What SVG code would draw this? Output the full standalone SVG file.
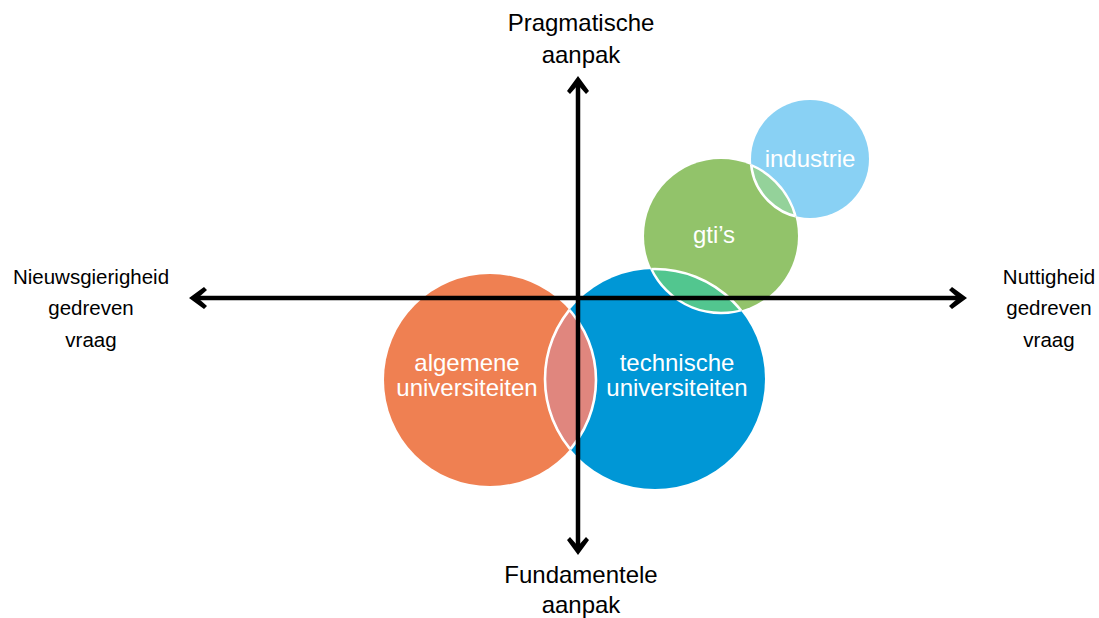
<svg xmlns="http://www.w3.org/2000/svg" width="1099" height="618" viewBox="0 0 1099 618">
  <style>
    .lbl { font-family: "Liberation Sans", Arial, sans-serif; fill: #000; text-anchor: middle; }
    .big { font-size: 24px; }
    .side { font-size: 20.5px; }
    .in { font-family: "Liberation Sans", Arial, sans-serif; font-size: 24px; fill: #fff; text-anchor: middle; }
    .lens { stroke: none; }
    .rim { fill: none; stroke: #fff; stroke-width: 2.6; }
    .axis { stroke: #000; stroke-width: 4.5; fill: none; }
  </style>
  <defs>
    <clipPath id="c-alg"><circle cx="490" cy="380" r="106"/></clipPath>
    <clipPath id="c-tech"><circle cx="655" cy="379" r="110"/></clipPath>
    <clipPath id="c-gti"><circle cx="721" cy="236" r="77"/></clipPath>
    <clipPath id="c-ind"><circle cx="810" cy="159" r="59"/></clipPath>
    <!-- notched chevron head, tip 8px beyond the line end -->
    <marker id="head" viewBox="-19 -12 20 24" refX="-8" refY="0" markerWidth="20" markerHeight="24" markerUnits="userSpaceOnUse" orient="auto-start-reverse">
      <path d="M0,0 L-15,-11 L-18,-8 L-9,0 L-18,8 L-15,11 Z" fill="#000"/>
    </marker>
  </defs>

  <rect width="1099" height="618" fill="#fff"/>

  <!-- circles -->
  <g id="node-algemene">
    <circle cx="490" cy="380" r="106" fill="#EF8052"/>
  </g>
  <g id="node-technische">
    <circle cx="655" cy="379" r="110" fill="#0097D6"/>
  </g>
  <g id="node-gti">
    <circle cx="721" cy="236" r="77" fill="#92C36A"/>
  </g>
  <g id="node-industrie">
    <circle cx="810" cy="159" r="59" fill="#89D1F4"/>
  </g>

  <!-- overlaps -->
  <g id="overlaps">
    <g clip-path="url(#c-alg)">
      <circle class="lens" cx="655" cy="379" r="110" fill="#E0867E"/>
      <circle class="rim" cx="655" cy="379" r="110"/>
    </g>
    <circle class="rim" cx="490" cy="380" r="106" clip-path="url(#c-tech)"/>

    <g clip-path="url(#c-gti)">
      <circle class="lens" cx="655" cy="379" r="110" fill="#52C68F"/>
      <circle class="rim" cx="655" cy="379" r="110"/>
    </g>
    <circle class="rim" cx="721" cy="236" r="77" clip-path="url(#c-tech)"/>

    <g clip-path="url(#c-ind)">
      <circle class="lens" cx="721" cy="236" r="77" fill="#94D29A"/>
      <circle class="rim" cx="721" cy="236" r="77"/>
    </g>
    <circle class="rim" cx="810" cy="159" r="59" clip-path="url(#c-gti)"/>
  </g>

  <!-- circle labels -->
  <g id="labels-in">
    <text class="in" x="467" y="371">algemene</text>
    <text class="in" x="467" y="396">universiteiten</text>
    <text class="in" x="677" y="371">technische</text>
    <text class="in" x="677" y="396">universiteiten</text>
    <text class="in" x="714" y="243">gti’s</text>
    <text class="in" x="810" y="167">industrie</text>
  </g>

  <!-- axes -->
  <g id="connectors">
    <line class="axis" x1="578" y1="84" x2="578" y2="547" marker-start="url(#head)" marker-end="url(#head)"/>
    <line class="axis" x1="197" y1="298" x2="959" y2="298" marker-start="url(#head)" marker-end="url(#head)"/>
  </g>

  <!-- axis labels -->
  <g id="axis-top">
    <text class="lbl big" x="581" y="31">Pragmatische</text>
    <text class="lbl big" x="581" y="63">aanpak</text>
  </g>
  <g id="axis-bottom">
    <text class="lbl big" x="581" y="583">Fundamentele</text>
    <text class="lbl big" x="581" y="613">aanpak</text>
  </g>
  <g id="axis-left">
    <text class="lbl side" x="91" y="284">Nieuwsgierigheid</text>
    <text class="lbl side" x="91" y="315">gedreven</text>
    <text class="lbl side" x="91" y="347">vraag</text>
  </g>
  <g id="axis-right">
    <text class="lbl side" x="1049" y="284">Nuttigheid</text>
    <text class="lbl side" x="1049" y="315">gedreven</text>
    <text class="lbl side" x="1049" y="347">vraag</text>
  </g>
</svg>
